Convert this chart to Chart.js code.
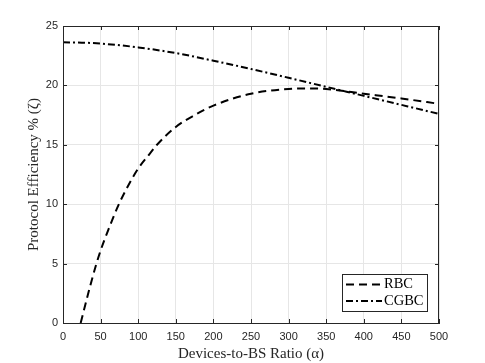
<!DOCTYPE html>
<html>
<head>
<meta charset="utf-8">
<script src="https://cdn.jsdelivr.net/npm/chart.js@4/dist/chart.umd.min.js"></script>
<style>
  html, body { margin: 0; padding: 0; background: #fff; }
  #wrap { width: 485px; height: 363px; }
</style>
</head>
<body>
<div id="wrap"><canvas id="grafico" width="485" height="363"></canvas></div>
<script>
// ---------------- DADOS ----------------
const rbcX  = [23.5, 34, 44, 50, 60, 73.6, 87, 100, 116, 125, 150, 175, 200, 250, 300, 325, 350, 400, 450, 500];
const rbcY  = [0, 2.6, 4.9, 6.1, 7.8, 9.9, 11.6, 13.0, 14.3, 15.0, 16.5, 17.5, 18.3, 19.3, 19.7, 19.75, 19.7, 19.3, 18.9, 18.45];

const cgbcX = [0, 25, 50, 100, 150, 200, 250, 300, 350, 400, 450, 500];
const cgbcY = [23.63, 23.6, 23.52, 23.2, 22.72, 22.08, 21.38, 20.64, 19.88, 19.12, 18.36, 17.6];

const xTicks = [0, 50, 100, 150, 200, 250, 300, 350, 400, 450, 500];
const yTicks = [0, 5, 10, 15, 20, 25];

const rotulos = ["RBC", "CGBC"];

const corEixo = "#262626";
const fonteSerif = "'Liberation Serif', 'DejaVu Serif', serif";
const fonteSans = "'Liberation Sans', Arial, sans-serif";

// ---------------- MOLDURA + TICKS + LEGENDA ----------------
const moldura = {
  id: "moldura",
  afterDatasetsDraw(chart) {
    const ctx = chart.ctx;
    const a = chart.chartArea;
    const sx = chart.scales.x;
    const sy = chart.scales.y;

    ctx.save();
    ctx.strokeStyle = corEixo;
    ctx.lineWidth = 1;

    // caixa
    ctx.strokeRect(a.left + 0.5, a.top + 0.5, a.right - a.left - 1, a.bottom - a.top);

    // ticks para dentro
    const t = 4;
    ctx.beginPath();
    xTicks.forEach(v => {
      const px = Math.round(sx.getPixelForValue(v)) + 0.5;
      ctx.moveTo(px, a.bottom); ctx.lineTo(px, a.bottom - t);
      ctx.moveTo(px, a.top);    ctx.lineTo(px, a.top + t);
    });
    yTicks.forEach(v => {
      const py = Math.round(sy.getPixelForValue(v)) + 0.5;
      ctx.moveTo(a.left, py);  ctx.lineTo(a.left + t, py);
      ctx.moveTo(a.right, py); ctx.lineTo(a.right - t, py);
    });
    ctx.stroke();

    // legenda
    const lx = 342.5, ly = 274.5, lw = 85, lh = 37;
    ctx.fillStyle = "#fff";
    ctx.fillRect(lx, ly, lw, lh);
    ctx.strokeRect(lx, ly, lw, lh);

    chart.data.datasets.forEach((ds, i) => {
      const y = 284.5 + i * 16.5;
      ctx.strokeStyle = "#000";
      ctx.lineWidth = ds.borderWidth;
      ctx.setLineDash(ds.borderDash);
      ctx.beginPath();
      ctx.moveTo(346, y);
      ctx.lineTo(382, y);
      ctx.stroke();
      ctx.setLineDash([]);

      ctx.fillStyle = "#000";
      ctx.font = "14.5px " + fonteSerif;
      ctx.textBaseline = "middle";
      ctx.textAlign = "left";
      ctx.fillText(ds.label, 384, y);
    });

    ctx.restore();
  }
};

// ---------------- GRÁFICO ----------------
new Chart(
  document.getElementById("grafico"),
  {
    type: "line",

    data: {
      datasets: [
        {
          label: rotulos[0],
          data: rbcX.map((x, i) => ({ x: x, y: rbcY[i] })),
          borderColor: "#000",
          borderWidth: 2,
          borderDash: [8, 5],
          pointRadius: 0,
          cubicInterpolationMode: "monotone",
          fill: false
        },
        {
          label: rotulos[1],
          data: cgbcX.map((x, i) => ({ x: x, y: cgbcY[i] })),
          borderColor: "#000",
          borderWidth: 2,
          borderDash: [7, 3, 2, 3],
          pointRadius: 0,
          cubicInterpolationMode: "monotone",
          fill: false
        }
      ]
    },

    options: {
      responsive: false,
      animation: false,
      devicePixelRatio: 1,

      layout: {
        padding: { top: 26, right: 46, left: 0, bottom: 0 }
      },

      plugins: {
        legend: { display: false },
        tooltip: { enabled: false }
      },

      scales: {
        x: {
          type: "linear",
          min: 0,
          max: 500,
          afterBuildTicks: s => { s.ticks = xTicks.map(v => ({ value: v })); },
          afterFit: s => { s.height = 40; },
          grid: { color: "#e6e6e6", drawTicks: false },
          border: { color: corEixo },
          ticks: {
            padding: 7,
            color: corEixo,
            font: { family: fonteSans, size: 11 }
          },
          title: {
            display: true,
            text: "Devices-to-BS Ratio (α)",
            color: corEixo,
            font: { family: fonteSerif, size: 15 },
            padding: { top: 0, bottom: 0 }
          }
        },
        y: {
          min: 0,
          max: 25,
          afterBuildTicks: s => { s.ticks = yTicks.map(v => ({ value: v })); },
          afterFit: s => { s.width = 63; },
          grid: { color: "#e6e6e6", drawTicks: false },
          border: { color: corEixo },
          ticks: {
            padding: 5,
            color: corEixo,
            font: { family: fonteSans, size: 11 }
          },
          title: {
            display: true,
            text: "Protocol Efficiency % (ζ)",
            color: corEixo,
            font: { family: fonteSerif, size: 15 },
            padding: { top: 25, bottom: 0 }
          }
        }
      }
    },

    plugins: [moldura]
  }
);
</script>
</body>
</html>
